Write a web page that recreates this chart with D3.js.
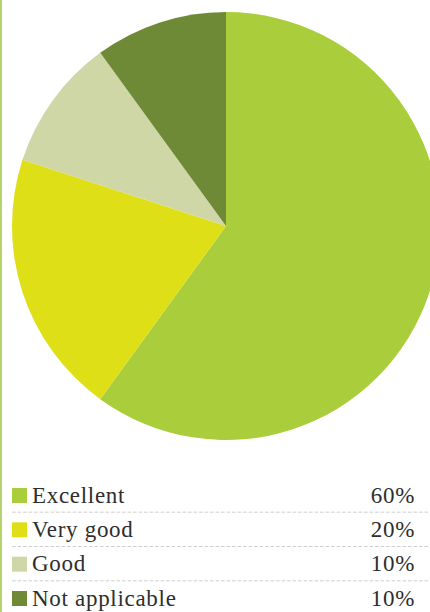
<!DOCTYPE html>
<html>
<head>
<meta charset="utf-8">
<script src="https://cdn.jsdelivr.net/npm/d3@7"></script>
<style>
  html, body { margin: 0; padding: 0; background: #fff; }
  svg { display: block; }
  .lbl { font-family: "Liberation Serif", "Times New Roman", serif; font-size: 23px; letter-spacing: 0.7px; fill: #2e2e2e; }
</style>
</head>
<body>
<script>
// Survey rating breakdown
const categories = ["Excellent", "Very good", "Good", "Not applicable"];
const values = [60, 20, 10, 10];
const colors = ["#a9cd3b", "#dfdf18", "#d0d7a6", "#6e8a37"];

const W = 430, H = 612;
const svg = d3.select("body").append("svg").attr("width", W).attr("height", H);

// left rule
svg.append("line")
  .attr("x1", 1).attr("x2", 1).attr("y1", 0).attr("y2", H)
  .attr("stroke", "#b7d36a").attr("stroke-width", 2);

// pie
const cx = 226, cy = 226, r = 214;
const pie = d3.pie().sort(null).value(d => d.value);
const arc = d3.arc().innerRadius(0).outerRadius(r);
const data = categories.map((c, i) => ({ name: c, value: values[i], color: colors[i] }));

svg.append("g")
  .attr("transform", `translate(${cx},${cy})`)
  .selectAll("path")
  .data(pie(data))
  .join("path")
  .attr("d", arc)
  .attr("fill", d => d.data.color);

// legend
const rowY = d3.scalePoint().domain(categories).range([495, 598]);
const legend = svg.append("g");
const rows = legend.selectAll("g").data(data).join("g")
  .attr("transform", d => `translate(0,${rowY(d.name)})`);

rows.append("rect")
  .attr("x", 12).attr("y", -7).attr("width", 15).attr("height", 15)
  .attr("fill", d => d.color);

rows.append("text")
  .attr("class", "lbl")
  .attr("x", 32).attr("y", 7.5)
  .text(d => d.name);

rows.append("text")
  .attr("class", "lbl")
  .attr("x", 415).attr("y", 7.5)
  .attr("text-anchor", "end")
  .text(d => d.value + "%");

// dashed separators between rows
const seps = categories.slice(0, -1).map((c, i) => (rowY(c) + rowY(categories[i + 1])) / 2);
svg.append("g").selectAll("line").data(seps).join("line")
  .attr("x1", 12).attr("x2", 428)
  .attr("y1", d => d).attr("y2", d => d)
  .attr("stroke", "#cfcfcf").attr("stroke-width", 1)
  .attr("stroke-dasharray", "3.7,1.8");
</script>
</body>
</html>
